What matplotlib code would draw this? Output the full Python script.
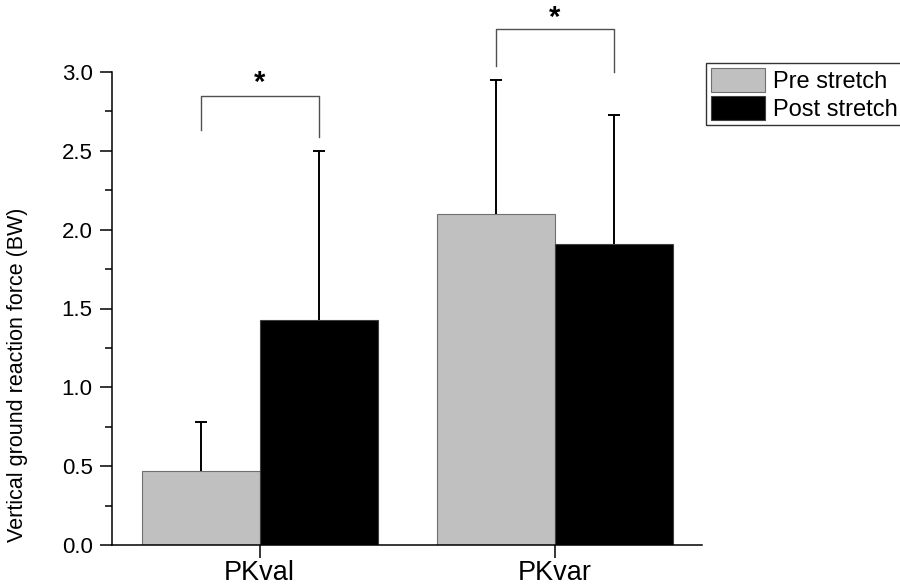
import matplotlib.pyplot as plt
import numpy as np

plt.rcParams['font.family'] = ['Liberation Sans', 'DejaVu Sans']

# data
groups = ['PKval', 'PKvar']
pre = [0.47, 2.10]
post = [1.43, 1.91]
pre_err = [0.31, 0.85]
post_err = [1.07, 0.82]

fig = plt.figure(figsize=(9, 5.86), dpi=100)
ax = fig.add_axes([112/900, 1-545/586, (702-112)/900, (545-72)/586])

x = np.arange(len(groups))
w = 0.4
ax.bar(x - w/2, pre, w, color='#c0c0c0', edgecolor='#707070', linewidth=0.8, label='Pre stretch', zorder=2)
ax.bar(x + w/2, post, w, color='black', edgecolor='#404040', linewidth=0.8, label='Post stretch', zorder=2)

# upward only error bars (hide the lower cap)
for xs, vals, errs in [(x - w/2, pre, pre_err), (x + w/2, post, post_err)]:
    eb = ax.errorbar(xs, vals, yerr=[np.zeros(2), errs], fmt='none', ecolor='black',
                     elinewidth=1.4, capsize=4, capthick=1.4, zorder=3)
    eb[1][0].set_visible(False)

# significance brackets
brk = [(0, 2.63, 2.59, 2.85, 2.93), (1, 3.04, 3.0, 3.27, 3.34)]
for g, yl, yr, yt, ys in brk:
    xl, xr = g - w/2, g + w/2
    ax.plot([xl, xl, xr, xr], [yl, yt, yt, yr], color='#505050', lw=1.0, clip_on=False)
    ax.text(g, ys, '*', ha='center', va='center', fontsize=21, fontweight='bold', clip_on=False)

ax.set_xlim(-0.5, 1.5)
ax.set_ylim(0, 3.0)
ax.set_xticks(x)
ax.set_xticklabels(groups, fontsize=19.5)
ax.set_yticks(np.arange(0, 3.01, 0.5))
ax.set_yticklabels(['%.1f' % v for v in np.arange(0, 3.01, 0.5)], fontsize=16)
ax.set_yticks(np.arange(0.25, 3.0, 0.5), minor=True)
ax.tick_params(axis='both', which='major', direction='out', length=9, width=1.1)
ax.tick_params(axis='y', which='minor', direction='out', length=5, width=1.1)
ax.tick_params(axis='x', pad=1.5)
ax.tick_params(axis='y', pad=5)
ax.spines['top'].set_visible(False)
ax.spines['right'].set_visible(False)
ax.spines['left'].set_linewidth(1.1)
ax.spines['bottom'].set_linewidth(1.1)
ax.set_ylabel('Vertical ground reaction force (BW)', fontsize=15.5)
ax.yaxis.set_label_coords(-0.142, 0.36)

leg = fig.legend(loc='upper left', bbox_to_anchor=(706/900, 1-63/586), fontsize=17,
                 frameon=True, fancybox=False, edgecolor='black', handlelength=2.3,
                 handleheight=1.2, handletextpad=0.35, borderpad=0.2, labelspacing=0.12,
                 borderaxespad=0)
leg.get_frame().set_linewidth(1.0)

plt.savefig('out.png', dpi=100)
